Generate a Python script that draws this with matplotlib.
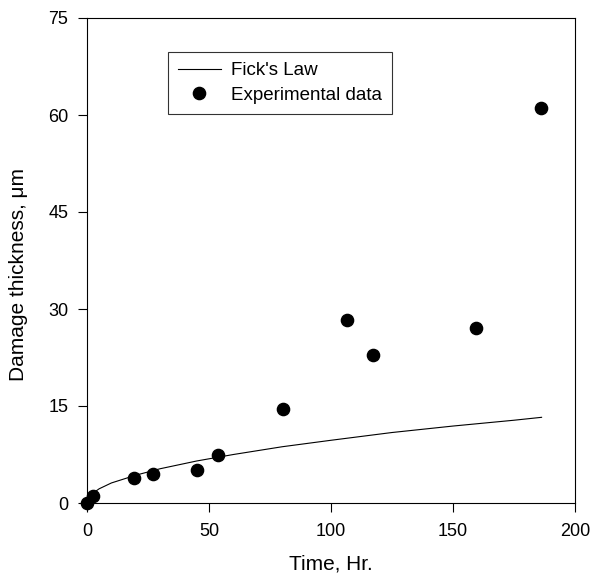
import numpy as np
import matplotlib
matplotlib.use("Agg")
import matplotlib.pyplot as plt

# experimental points
exp_time = [0, 2.3, 19.4, 26.9, 45.2, 53.5, 80.2, 106.6, 117.2, 159.4, 186.1]
exp_thick = [0.0, 1.1, 3.9, 4.5, 5.1, 7.5, 14.5, 28.3, 22.9, 27.1, 61.1]

# Fick's law curve
fick_time = [0, 1, 2, 5, 10, 20, 30, 45, 60, 80, 100, 125, 150, 175, 186.3]
fick_thick = [0.0, 1.0, 1.4, 2.2, 3.1, 4.3, 5.3, 6.5, 7.5, 8.7, 9.7, 10.9, 11.9, 12.8, 13.25]

xticks = [0, 50, 100, 150, 200]
yticks = [0, 15, 30, 45, 60, 75]

plt.rcParams['font.family'] = ['Liberation Sans', 'DejaVu Sans']

fig = plt.figure(figsize=(5.92, 5.73), dpi=100)
ax = fig.add_axes([87 / 592, 1 - 503 / 573, 488 / 592, 485 / 573])

ax.plot(fick_time, fick_thick, color='black', lw=0.8, label="Fick's Law")
ax.plot(exp_time, exp_thick, 'o', color='black', ms=8.8, ls='none',
        label='Experimental data', clip_on=False, zorder=3)

ax.set_xlim(0, 200)
ax.set_ylim(0, 75)
ax.set_xticks(xticks)
ax.set_yticks(yticks)
ax.tick_params(direction='out', length=6.5, width=0.8, labelsize=13)
ax.tick_params(axis='x', pad=8)
ax.tick_params(axis='y', pad=7)
for s in ax.spines.values():
    s.set_linewidth(0.8)

ax.set_xlabel('Time, Hr.', fontsize=15)
ax.set_ylabel('Damage thickness, \u03bcm', fontsize=15)
ax.xaxis.set_label_coords(0.5, -0.107)
ax.yaxis.set_label_coords(-0.121, 0.472)

leg = ax.legend(loc='upper left', bbox_to_anchor=(0.166, 0.93), fontsize=13.5,
                frameon=True, fancybox=False, edgecolor='black',
                handlelength=2.25, borderpad=0.55, labelspacing=0.38,
                handletextpad=0.55, borderaxespad=0)
leg.get_frame().set_linewidth(0.8)

fig.savefig('out.png', dpi=100)
